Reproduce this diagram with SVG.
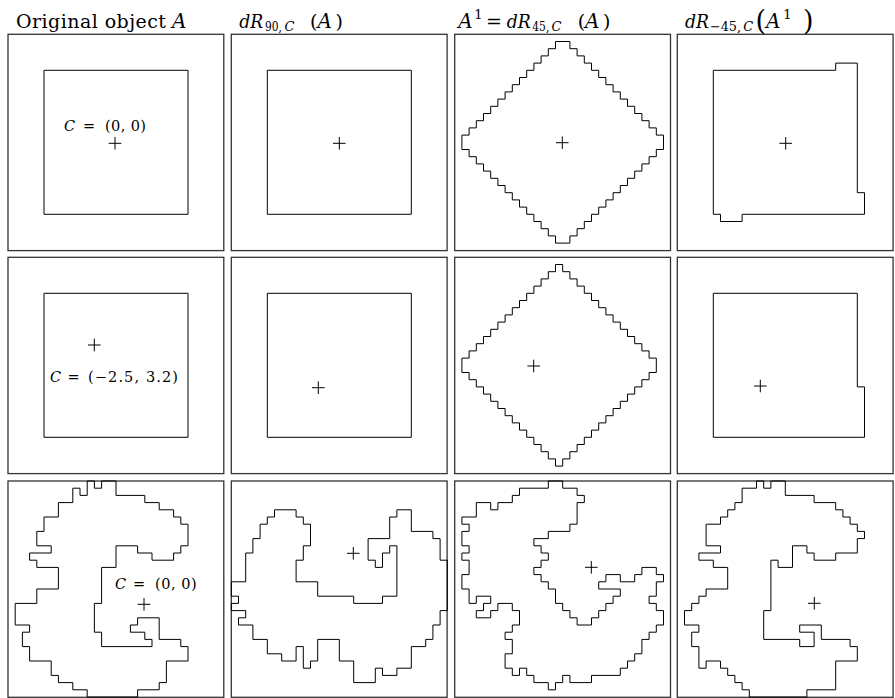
<svg xmlns="http://www.w3.org/2000/svg" width="895" height="698" viewBox="0 0 895 698">
<style>
text{font-family:"DejaVu Serif","Liberation Serif",serif;fill:#000}
.h{font-size:19px}
.ha{font-size:20px;font-style:italic}
.sub{font-size:13px}
.lab{font-size:14.5px}
.it{font-style:italic}
.frame{fill:none;stroke:#333;stroke-width:1.3}
.obj{fill:none;stroke:#000;stroke-width:1;vector-effect:non-scaling-stroke}
.cross{fill:none;stroke:#000;stroke-width:1}
</style>
<defs>
<path id="x" class="cross" d="M-6.3,0H6.3M0,-6.3V6.3"/>
<rect id="fr" class="frame" x="0" y="0" width="215.8" height="216.3"/>
<path id="dia0" class="obj" d="M14,1 H16 V2 H17 V3 H18 V4 H19 V5 H20 V6 H21 V7 H22 V8 H23 V9 H24 V10 H25 V11 H26 V12 H27 V13 H28 V14 H29 V16 H28 V17 H27 V18 H26 V19 H25 V20 H24 V21 H23 V22 H22 V23 H21 V24 H20 V25 H19 V26 H18 V27 H17 V28 H16 V29 H14 V28 H13 V27 H12 V26 H11 V25 H10 V24 H9 V23 H8 V22 H7 V21 H6 V20 H5 V19 H4 V18 H3 V17 H2 V16 H1 V14 H2 V13 H3 V12 H4 V11 H5 V10 H6 V9 H7 V8 H8 V7 H9 V6 H10 V5 H11 V4 H12 V3 H13 V2 H14 Z"/>
<path id="dia1" class="obj" d="M14,1 H15 V2 H16 V3 H17 V4 H18 V5 H19 V6 H20 V7 H21 V8 H22 V9 H23 V10 H24 V11 H25 V12 H26 V13 H27 V14 H28 V16 H27 V17 H26 V18 H25 V19 H24 V20 H23 V21 H22 V22 H21 V23 H20 V24 H19 V25 H18 V26 H17 V27 H16 V28 H15 V29 H14 V28 H13 V27 H12 V26 H11 V25 H10 V24 H9 V23 H8 V22 H7 V21 H6 V20 H5 V19 H4 V18 H3 V17 H2 V16 H1 V14 H2 V13 H3 V12 H4 V11 H5 V10 H6 V9 H7 V8 H8 V7 H9 V6 H10 V5 H11 V4 H12 V3 H13 V2 H14 Z"/>
</defs>

<g id="headers">
<text class="h" x="16" y="28.3" textLength="150" lengthAdjust="spacing">Original object</text>
<text class="ha" x="172" y="28.3">A</text>

<text class="h it" x="239.3" y="28.3" textLength="24" lengthAdjust="spacingAndGlyphs">dR</text>
<text class="sub" x="265" y="31" textLength="17" lengthAdjust="spacingAndGlyphs">90,</text>
<text class="sub it" x="284.5" y="31">C</text>
<text class="h" x="310" y="28.3">(</text>
<text class="ha" x="317.5" y="28.3">A</text>
<text class="h" x="335.5" y="28.3">)</text>

<text class="ha" x="458.3" y="28.3">A</text>
<text class="sub" x="474.3" y="18.5">1</text>
<text class="h" x="486" y="28.3">=</text>
<text class="h it" x="506.7" y="28.3" textLength="24" lengthAdjust="spacingAndGlyphs">dR</text>
<text class="sub" x="532.3" y="31" textLength="17" lengthAdjust="spacingAndGlyphs">45,</text>
<text class="sub it" x="551.5" y="31">C</text>
<text class="h" x="577.7" y="28.3">(</text>
<text class="ha" x="585" y="28.3">A</text>
<text class="h" x="603" y="28.3">)</text>

<text class="h it" x="685" y="28.3" textLength="24" lengthAdjust="spacingAndGlyphs">dR</text>
<text class="sub" x="710" y="31" textLength="31" lengthAdjust="spacingAndGlyphs">−45,</text>
<text class="sub it" x="743.3" y="31">C</text>
<text x="755.5" y="29.5" style="font-size:27px">(</text>
<text class="ha" x="766" y="28.3">A</text>
<text class="sub" x="783.3" y="18.5">1</text>
<text x="803" y="29.5" style="font-size:27px">)</text>
</g>

<g id="r1c1" transform="translate(8,34.3)">
<use href="#fr"/>
<g transform="scale(7.2)"><rect class="obj" x="5" y="5" width="20" height="20"/></g>
<use href="#x" x="107" y="109"/>
<text class="lab it" x="56" y="96.4">C</text>
<text class="lab" x="75" y="96.4">=</text>
<text class="lab" x="97" y="96.4" textLength="41" lengthAdjust="spacing">(0, 0)</text>
</g>
<g id="r1c2" transform="translate(231.3,34.3)">
<use href="#fr"/>
<g transform="scale(7.2)"><rect class="obj" x="5" y="5" width="20" height="20"/></g>
<use href="#x" x="108" y="109"/>
</g>
<g id="r1c3" transform="translate(454.7,34.3)">
<use href="#fr"/>
<g transform="scale(7.2)"><use href="#dia0"/></g>
<use href="#x" x="107.6" y="108.4"/>
</g>
<g id="r1c4" transform="translate(677.3,34.3)">
<use href="#fr"/>
<g transform="scale(7.2)"><polygon class="obj" points="5,5 22,5 22,4 25,4 25,22 26,22 26,25 9,25 9,26 6,26 6,25 5,25"/></g>
<use href="#x" x="108.4" y="109"/>
</g>

<g id="r2c1" transform="translate(8,257.3)">
<use href="#fr"/>
<g transform="scale(7.2)"><rect class="obj" x="5" y="5" width="20" height="20"/></g>
<use href="#x" x="86.3" y="87.7"/>
<text class="lab it" x="42" y="124.4">C</text>
<text class="lab" x="59.5" y="124.4">=</text>
<text class="lab" x="80" y="124.4" textLength="90" lengthAdjust="spacing">(−2.5, 3.2)</text>
</g>
<g id="r2c2" transform="translate(231.3,257.3)">
<use href="#fr"/>
<g transform="scale(7.2)"><rect class="obj" x="5" y="5" width="20" height="20"/></g>
<use href="#x" x="87" y="130.4"/>
</g>
<g id="r2c3" transform="translate(454.7,257.3)">
<use href="#fr"/>
<g transform="scale(7.2)"><use href="#dia1"/></g>
<use href="#x" x="79" y="108.7"/>
</g>
<g id="r2c4" transform="translate(677.3,257.3)">
<use href="#fr"/>
<g transform="scale(7.2)"><polygon class="obj" points="5,5 25,5 25,18 26,18 26,25 5,25"/></g>
<use href="#x" x="83" y="128.7"/>
</g>

<g id="r3c1" transform="translate(8,481)">
<use href="#fr"/>
<g transform="scale(7.2)"><polygon class="obj" points="25,6 25,9 24,9 24,10 23,10 23,11 20,11 20,10 18,10 18,9 15,9 15,12 13,12 13,17 12,17 12,21 13,21 13,23 20,23 20,22 19,22 19,21 17,21 17,20 18,20 18,19 21,19 21,22 24,22 24,23 25,23 25,25 22,25 22,28 21,28 21,29 18,29 18,30 11,30 11,29 9,29 9,28 7,28 7,27 6,27 6,25 3,25 3,23 2,23 2,21 3,21 3,20 1,20 1,17 4,17 4,15 7,15 7,12 4,12 4,11 3,11 3,10 6,10 6,9 4,9 4,7 5,7 5,5 7,5 7,3 9,3 9,1 10,1 10,2 11,2 11,0 12,0 12,1 13,1 13,0 15,0 15,2 19,2 19,3 21,3 21,4 23,4 23,5 24,5 24,6"/></g>
<use href="#x" x="136" y="123.3"/>
<text class="lab it" x="107" y="108.3">C</text>
<text class="lab" x="125" y="108.3">=</text>
<text class="lab" x="147" y="108.3" textLength="41.7" lengthAdjust="spacing">(0, 0)</text>
</g>
<g id="r3c2" transform="translate(231.3,481)">
<use href="#fr"/>
<g transform="scale(7.2)"><polygon class="obj" points="6,4 9,4 9,5 10,5 10,6 11,6 11,9 10,9 10,11 9,11 9,14 12,14 12,16 17,16 17,17 21,17 21,16 23,16 23,9 22,9 22,10 21,10 21,12 20,12 20,11 19,11 19,8 22,8 22,5 23,5 23,4 25,4 25,7 28,7 28,8 29,8 29,11 30,11 30,18 29,18 29,20 28,20 28,22 27,22 27,23 25,23 25,26 23,26 23,27 21,27 21,26 20,26 20,28 17,28 17,25 15,25 15,22 12,22 12,25 11,25 11,26 10,26 10,23 9,23 9,25 7,25 7,24 5,24 5,22 3,22 3,20 1,20 1,19 2,19 2,18 0,18 0,17 1,17 1,16 0,16 0,14 2,14 2,10 3,10 3,8 4,8 4,6 5,6 5,5 6,5"/></g>
<use href="#x" x="122" y="72.3"/>
</g>
<g id="r3c3" transform="translate(454.7,481)">
<use href="#fr"/>
<g transform="scale(7.2)"><polygon class="obj" points="13,0 15,0 15,1 17,1 17,2 18,2 18,3 17,3 17,6 16,6 16,7 13,7 13,8 11,8 11,9 12,9 12,10 13,10 13,11 12,11 12,12 11,12 11,13 12,13 12,14 13,14 13,15 14,15 14,17 15,17 15,18 16,18 16,19 17,19 17,20 19,20 19,19 20,19 20,18 21,18 21,17 22,17 22,16 23,16 23,15 20,15 20,14 21,14 21,13 23,13 23,14 25,14 25,13 26,13 26,12 28,12 28,13 29,13 29,14 28,14 28,16 27,16 27,17 28,17 28,18 29,18 29,20 28,20 28,21 27,21 27,22 26,22 26,24 25,24 25,25 24,25 24,26 23,26 23,27 19,27 19,28 16,28 16,27 15,27 15,28 14,28 14,29 13,29 13,28 11,28 11,27 10,27 10,26 9,26 9,27 8,27 8,26 7,26 7,24 8,24 8,22 7,22 7,21 8,21 8,20 9,20 9,18 8,18 8,17 6,17 6,18 5,18 5,19 3,19 3,18 4,18 4,17 5,17 5,16 3,16 3,17 2,17 2,15 1,15 1,13 2,13 2,11 1,11 1,10 2,10 2,9 1,9 1,7 2,7 2,6 1,6 1,5 3,5 3,3 5,3 5,4 6,4 6,3 8,3 8,2 9,2 9,1 13,1"/></g>
<use href="#x" x="136.6" y="86.3"/>
</g>
<g id="r3c4" transform="translate(677.3,481)">
<use href="#fr"/>
<g transform="scale(7.2)"><polygon class="obj" points="11,0 12,0 12,1 13,1 13,0 15,0 15,2 19,2 19,3 22,3 22,4 23,4 23,5 24,5 24,6 25,6 25,7 26,7 26,8 25,8 25,10 22,10 22,11 19,11 19,10 18,10 18,9 16,9 16,12 14,12 14,11 13,11 13,18 12,18 12,22 17,22 17,23 19,23 19,21 17,21 17,20 20,20 20,22 24,22 24,23 25,23 25,25 22,25 22,29 18,29 18,30 10,30 10,29 9,29 9,28 8,28 8,27 7,27 7,26 6,26 6,25 4,25 4,26 3,26 3,23 2,23 2,21 3,21 3,20 1,20 1,18 2,18 2,17 3,17 3,16 4,16 4,15 7,15 7,12 5,12 5,11 3,11 3,10 6,10 6,9 4,9 4,6 6,6 6,5 7,5 7,4 8,4 8,3 9,3 9,1 11,1"/></g>
<use href="#x" x="137" y="122.3"/>
</g>
</svg>
